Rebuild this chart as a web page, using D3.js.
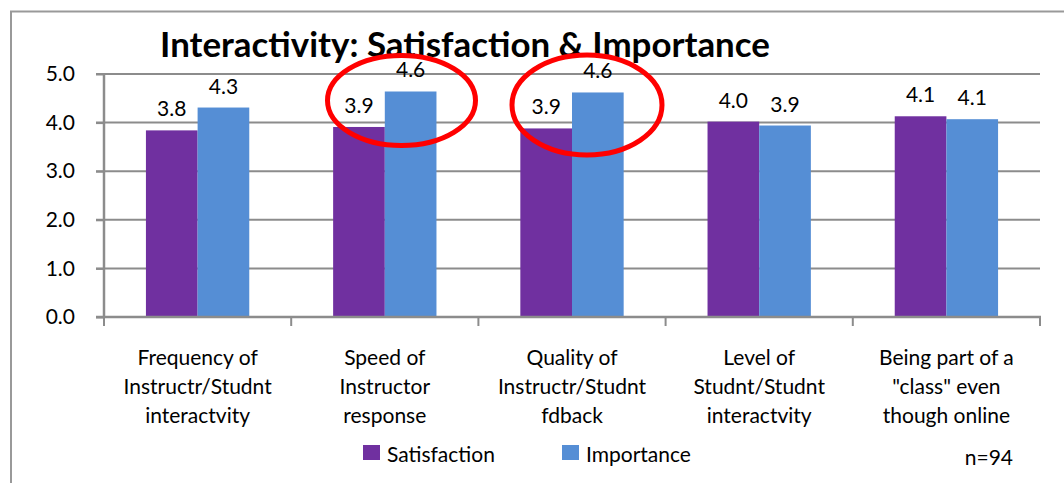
<!DOCTYPE html>
<html>
<head>
<meta charset="utf-8">
<script src="https://cdn.jsdelivr.net/npm/d3@7"></script>
<style>
  body { margin: 0; background: #fff; }
  text { font-family: Lato, "Open Sans", sans-serif; fill: #000; }
</style>
</head>
<body>
<svg id="chart" width="1064" height="483"></svg>
<script>
// data
const categories = [
  ["Frequency of", "Instructr/Studnt", "interactvity"],
  ["Speed of", "Instructor", "response"],
  ["Quality of", "Instructr/Studnt", "fdback"],
  ["Level of", "Studnt/Studnt", "interactvity"],
  ["Being part of a", "\"class\" even", "though online"]
];
const satisfaction = [3.84, 3.91, 3.88, 4.02, 4.13];
const importance = [4.31, 4.64, 4.62, 3.94, 4.07];
const seriesNames = ["Satisfaction", "Importance"];
const yTicks = [0, 1, 2, 3, 4, 5];
const highlighted = [1, 2]; // circled pairs

const colors = ["#7030A0", "#558ED5"];
const gridColor = "#8c8c8c";
const fs = 21;

const svg = d3.select("#chart");
const margin = { left: 104, right: 1040, top: 74, bottom: 317 };

// outer frame (left & top edges visible)
svg.append("path")
  .attr("d", "M11 483 V11.5 H1064")
  .attr("fill", "none")
  .attr("stroke", "#999")
  .attr("stroke-width", 2);

const x = d3.scaleBand()
  .domain(d3.range(categories.length))
  .range([margin.left, margin.right]);
const y = d3.scaleLinear().domain([0, 5]).range([margin.bottom, margin.top]);
const barW = x.bandwidth() * 0.276;

// gridlines
svg.append("g").selectAll("line").data(yTicks.filter(d => d > 0))
  .join("line")
  .attr("x1", margin.left - 8).attr("x2", margin.right)
  .attr("y1", d => y(d)).attr("y2", d => y(d))
  .attr("stroke", gridColor).attr("stroke-width", 2);

// bars
const data = categories.map((c, i) => ({ i, vals: [satisfaction[i], importance[i]] }));
const groups = svg.append("g").selectAll("g").data(data).join("g");
groups.selectAll("rect").data(d => d.vals.map((v, k) => ({ i: d.i, k, v })))
  .join("rect")
  .attr("x", d => x(d.i) + x.bandwidth() / 2 - barW + d.k * barW)
  .attr("y", d => y(d.v))
  .attr("width", barW)
  .attr("height", d => y(0) - y(d.v))
  .attr("fill", d => colors[d.k]);

groups.selectAll("text.val").data(d => d.vals.map((v, k) => ({ i: d.i, k, v })))
  .join("text").attr("class", "val")
  .attr("x", d => x(d.i) + x.bandwidth() / 2 - barW / 2 + d.k * barW)
  .attr("y", d => y(d.v) - 14)
  .attr("text-anchor", "middle")
  .attr("font-size", fs)
  .text(d => d3.format(".1f")(d.v));

// y axis
const yAxis = svg.append("g")
  .attr("transform", `translate(${margin.left},0)`)
  .call(d3.axisLeft(y).tickValues(yTicks).tickFormat(d3.format(".1f")).tickSize(8).tickPadding(21));
yAxis.select(".domain").attr("stroke", gridColor).attr("stroke-width", 2.5).attr("d", `M0 ${margin.top} V${margin.bottom}`);
yAxis.selectAll(".tick line").attr("stroke", gridColor).attr("stroke-width", 2);
yAxis.selectAll(".tick text").attr("font-size", fs).attr("font-family", "Lato, sans-serif").attr("fill", "#000");

// x axis baseline with boundary ticks
svg.append("line")
  .attr("x1", margin.left - 8).attr("x2", margin.right + 1)
  .attr("y1", y(0)).attr("y2", y(0))
  .attr("stroke", gridColor).attr("stroke-width", 2.5);
svg.append("g").selectAll("line")
  .data(d3.range(categories.length + 1))
  .join("line")
  .attr("x1", d => margin.left + d * x.step()).attr("x2", d => margin.left + d * x.step())
  .attr("y1", y(0)).attr("y2", y(0) + 9)
  .attr("stroke", gridColor).attr("stroke-width", 2);

// category labels
svg.append("g").selectAll("text").data(categories)
  .join("text")
  .attr("text-anchor", "middle")
  .attr("font-size", fs)
  .attr("transform", (d, i) => `translate(${x(i) + x.bandwidth() / 2},365)`)
  .selectAll("tspan").data(d => d)
  .join("tspan")
  .attr("x", 0)
  .attr("y", (d, j) => j * 29)
  .text(d => d);

// title
const title = svg.append("text")
  .attr("x", 465).attr("y", 57)
  .attr("text-anchor", "middle")
  .attr("font-weight", "bold")
  .attr("font-size", 30)
  .text("Interactivity: Satisfaction & Importance");
const tw = title.node().getComputedTextLength();
title.attr("font-size", 30 * 610 / tw);

// red highlight ellipses
const ell = [
  { cx: 401.5, cy: 100.5, rx: 74, ry: 45 },
  { cx: 587, cy: 105, rx: 75, ry: 50 }
];
svg.append("g").selectAll("ellipse").data(highlighted.map((h, k) => ell[k]))
  .join("ellipse")
  .attr("cx", d => d.cx).attr("cy", d => d.cy)
  .attr("rx", d => d.rx).attr("ry", d => d.ry)
  .attr("fill", "none")
  .attr("stroke", "#ff0000")
  .attr("stroke-width", 5);

// legend
const legX = [363, 562];
const leg = svg.append("g").selectAll("g").data(seriesNames).join("g")
  .attr("transform", (d, i) => `translate(${legX[i]},445)`);
leg.append("rect").attr("width", 17).attr("height", 15).attr("fill", (d, i) => colors[i]);
leg.append("text").attr("x", 24).attr("y", 17).attr("font-size", fs).text(d => d);

svg.append("text")
  .attr("x", 1013).attr("y", 465)
  .attr("text-anchor", "end")
  .attr("font-size", fs)
  .text("n=94");
</script>
</body>
</html>
